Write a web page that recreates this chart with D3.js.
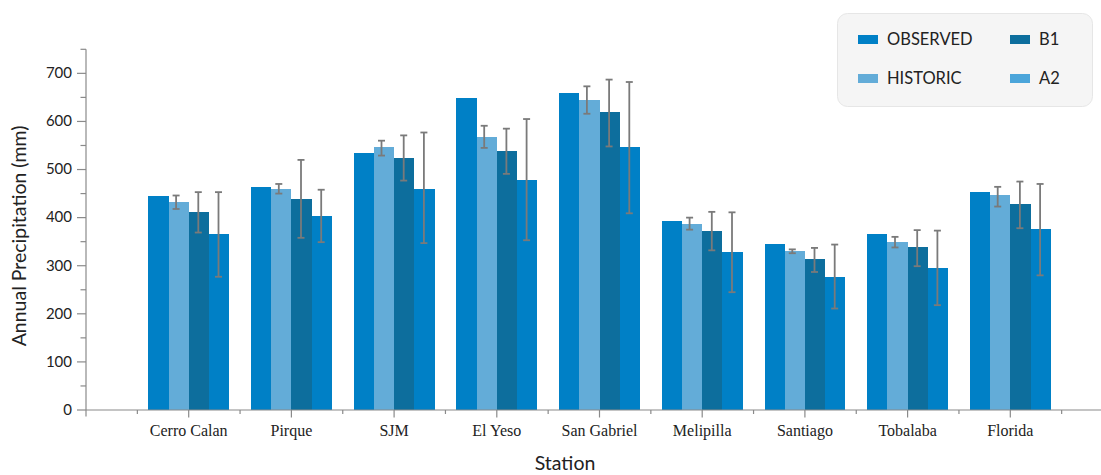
<!DOCTYPE html>
<html>
<head>
<meta charset="utf-8">
<script src="https://cdn.jsdelivr.net/npm/d3@7"></script>
<style>
  html, body { margin: 0; padding: 0; background: #fff; }
  svg { display: block; }
</style>
</head>
<body>
<svg id="chart" width="1101" height="475"></svg>
<script>
const stations = ["Cerro Calan","Pirque","SJM","El Yeso","San Gabriel","Melipilla","Santiago","Tobalaba","Florida"];
const seriesNames = ["OBSERVED","HISTORIC","B1","A2"];
const observed = [445, 464, 534, 649, 659, 393, 345, 366, 453];
const historic = [432, 460, 547, 568, 645, 387, 331, 349, 447];
const historicHigh = [446, 470, 560, 591, 673, 400, 334, 360, 464];
const historicLow  = [418, 450, 529, 545, 616, 375, 326, 338, 423];
const b1 = [412, 439, 524, 539, 620, 372, 314, 339, 428];
const b1High = [453, 520, 571, 585, 687, 412, 337, 374, 475];
const b1Low  = [369, 358, 477, 491, 548, 332, 287, 299, 378];
const a2 = [366, 403, 460, 478, 547, 329, 277, 295, 376];
const a2High = [453, 458, 577, 605, 682, 411, 344, 373, 470];
const a2Low  = [277, 349, 347, 353, 409, 245, 211, 218, 280];
const yTicks = [0, 100, 200, 300, 400, 500, 600, 700];

const barColors = ["#0080c6", "#63acd8", "#0d6e9d", "#0080c6"];
const legendColors = ["#0080c6", "#63acd8", "#0d6e9d", "#4ba5da"];

const values = [observed, historic, b1, a2];
const errs = [null, [historicLow, historicHigh], [b1Low, b1High], [a2Low, a2High]];

const svg = d3.select("#chart");
const axisColor = "#8a8a8a";

const x = d3.scaleLinear().domain([0, 10]).range([86, 86 + 10 * 102.7]);
const y = d3.scaleLinear().domain([0, 750]).range([410, 49.3]);
const inner = d3.scaleBand().domain(seriesNames).range([-40.4, 40.4]).padding(0);

// Bars
const g = svg.append("g");
stations.forEach((st, i) => {
  const cx = x(i + 1);
  seriesNames.forEach((s, j) => {
    const v = values[j][i];
    g.append("rect")
      .attr("x", cx + inner(s))
      .attr("y", y(v))
      .attr("width", inner.bandwidth())
      .attr("height", y(0) - y(v))
      .attr("fill", barColors[j])
      .attr("shape-rendering", "crispEdges");
  });
});

// Error bars
stations.forEach((st, i) => {
  const cx = x(i + 1);
  seriesNames.forEach((s, j) => {
    if (!errs[j]) return;
    const lo = errs[j][0][i], hi = errs[j][1][i];
    const ex = cx + inner(s) + inner.bandwidth() / 2 - (j === 1 ? 2.5 : 0.5);
    const eg = g.append("g").attr("stroke", "#7a7a7a").attr("stroke-width", 1.8);
    eg.append("line").attr("x1", ex).attr("x2", ex).attr("y1", y(hi)).attr("y2", y(lo));
    eg.append("line").attr("x1", ex - 3.5).attr("x2", ex + 3.5).attr("y1", y(hi)).attr("y2", y(hi));
    eg.append("line").attr("x1", ex - 3.5).attr("x2", ex + 3.5).attr("y1", y(lo)).attr("y2", y(lo));
  });
});

// Y axis
const yAxisG = svg.append("g").attr("transform", "translate(86,0)");
yAxisG.append("line").attr("x1", 0).attr("x2", 0).attr("y1", y(750)).attr("y2", y(0) + 6.5)
  .attr("stroke", axisColor).attr("stroke-width", 1.2);
d3.range(50, 800, 100).forEach(v => {
  yAxisG.append("line").attr("x1", -5.5).attr("x2", 0).attr("y1", y(v)).attr("y2", y(v))
    .attr("stroke", axisColor).attr("stroke-width", 1.2);
});
yTicks.forEach(v => {
  yAxisG.append("line").attr("x1", -9).attr("x2", 0).attr("y1", y(v)).attr("y2", y(v))
    .attr("stroke", axisColor).attr("stroke-width", 1.2);
  yAxisG.append("text").attr("x", -14).attr("y", y(v)).attr("dy", "0.32em")
    .attr("text-anchor", "end").attr("font-family", "Lato, 'Open Sans', sans-serif")
    .attr("font-size", "15px").attr("fill", "#222").text(v);
});

// X axis
const xAxisG = svg.append("g");
xAxisG.append("line").attr("x1", 86).attr("x2", 1101).attr("y1", y(0)).attr("y2", y(0))
  .attr("stroke", axisColor).attr("stroke-width", 1.2);
d3.range(0.5, 10, 1).forEach(t => {
  xAxisG.append("line").attr("x1", x(t)).attr("x2", x(t)).attr("y1", y(0)).attr("y2", y(0) + 4)
    .attr("stroke", axisColor).attr("stroke-width", 1.2);
});
stations.forEach((st, i) => {
  const cx = x(i + 1);
  xAxisG.append("line").attr("x1", cx).attr("x2", cx).attr("y1", y(0)).attr("y2", y(0) + 7.5)
    .attr("stroke", axisColor).attr("stroke-width", 1.2);
  xAxisG.append("text").attr("x", cx).attr("y", 436)
    .attr("text-anchor", "middle").attr("font-family", "'Liberation Serif', serif")
    .attr("font-size", "16px").attr("fill", "#222").text(st);
});

// Axis titles
svg.append("text").attr("x", 565).attr("y", 470).attr("text-anchor", "middle")
  .attr("font-family", "Lato, 'Open Sans', sans-serif").attr("font-size", "19.5px").attr("fill", "#222")
  .text("Station");
svg.append("text").attr("transform", "translate(26,236) rotate(-90)").attr("text-anchor", "middle")
  .attr("font-family", "Lato, 'Open Sans', sans-serif").attr("font-size", "19.5px").attr("fill", "#222")
  .text("Annual Precipitation (mm)");

// Legend
const lg = svg.append("g");
lg.append("rect").attr("x", 837.5).attr("y", 13.5).attr("width", 255).attr("height", 93)
  .attr("rx", 10).attr("fill", "#f5f5f5").attr("stroke", "#e6e6e6");
const legPos = [[858, 39], [858, 78], [1010, 39], [1010, 78]];
seriesNames.forEach((s, j) => {
  const [lx, ly] = legPos[j];
  lg.append("rect").attr("x", lx).attr("y", ly - 4).attr("width", 20).attr("height", 9)
    .attr("fill", legendColors[j]);
  lg.append("text").attr("x", lx + 29).attr("y", ly).attr("dy", "0.36em")
    .attr("font-family", "Lato, 'Open Sans', sans-serif").attr("font-size", "16.5px").attr("fill", "#222")
    .text(s);
});
</script>
</body>
</html>
